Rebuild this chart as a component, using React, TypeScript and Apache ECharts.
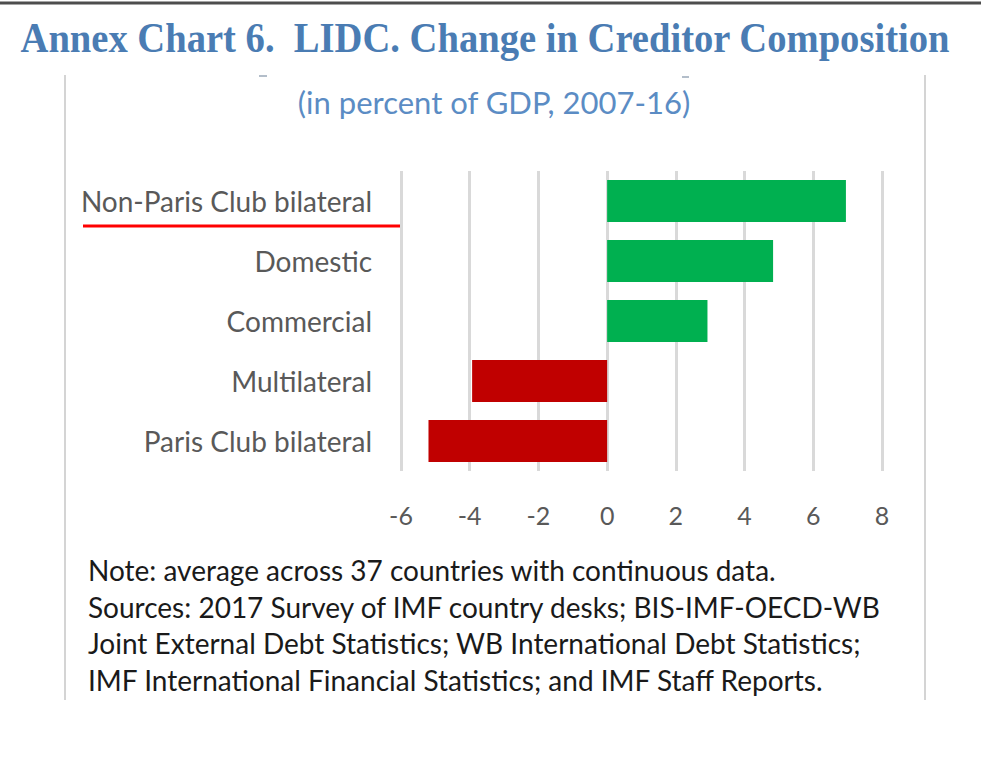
import React, { useEffect, useRef } from "react";
import * as echarts from "echarts";

const categories = [
  "Non-Paris Club bilateral",
  "Domestic",
  "Commercial",
  "Multilateral",
  "Paris Club bilateral",
];
const values = [6.95, 4.83, 2.92, -3.93, -5.2];
const xTicks = { min: -6, max: 8, interval: 2 };

const titleText = "Annex Chart 6.  LIDC. Change in Creditor Composition";
const subtitleText = "(in percent of GDP, 2007-16)";
const noteLines = [
  "Note: average across 37 countries with continuous data.",
  "Sources: 2017 Survey of IMF country desks; BIS-IMF-OECD-WB",
  "Joint External Debt Statistics; WB International Debt Statistics;",
  "IMF International Financial Statistics; and IMF Staff Reports.",
];

const GREEN = "#00b050";
const RED = "#c00000";
const SANS = "Lato, 'Open Sans', sans-serif";

export default function App() {
  const ref = useRef<HTMLDivElement>(null);
  useEffect(() => {
    if (!ref.current) return;
    const chart = echarts.init(ref.current, undefined, { renderer: "svg" });
    chart.setOption({
      animation: false,
      backgroundColor: "#ffffff",
      grid: { left: 401, right: 99, top: 171, bottom: 301 },
      xAxis: {
        type: "value",
        min: xTicks.min,
        max: xTicks.max,
        interval: xTicks.interval,
        axisLine: { show: false },
        axisTick: { show: false },
        splitLine: { show: true, lineStyle: { color: "#d9d9d9", width: 3 } },
        axisLabel: { color: "#595959", fontSize: 25, fontFamily: SANS, margin: 31 },
      },
      yAxis: {
        type: "category",
        data: categories,
        inverse: true,
        axisLine: { show: false },
        axisTick: { show: false },
        axisLabel: { color: "#595959", fontSize: 28, fontFamily: SANS, margin: 29 },
      },
      series: [
        {
          type: "bar",
          data: values.map((v) => ({ value: v, itemStyle: { color: v >= 0 ? GREEN : RED } })),
          barCategoryGap: "30%",
        },
      ],
      graphic: [
        { type: "line", shape: { x1: 0, y1: 3, x2: 981, y2: 3 }, style: { stroke: "#4d4d4d", lineWidth: 3 } },
        {
          type: "text",
          x: 485,
          y: 38,
          scaleY: 1.08,
          style: {
            text: titleText,
            fill: "#4a7cb3",
            font: "bold 38.6px 'Liberation Serif', serif",
            align: "center",
            verticalAlign: "middle",
          },
        },
        { type: "line", shape: { x1: 65, y1: 75, x2: 65, y2: 700 }, style: { stroke: "#d4d4d4", lineWidth: 2 } },
        { type: "line", shape: { x1: 925, y1: 75, x2: 925, y2: 700 }, style: { stroke: "#d4d4d4", lineWidth: 2 } },
        { type: "line", shape: { x1: 259, y1: 76, x2: 267, y2: 76 }, style: { stroke: "#9aa8b8", lineWidth: 1.5 } },
        { type: "line", shape: { x1: 682, y1: 77, x2: 689, y2: 77 }, style: { stroke: "#9aa8b8", lineWidth: 1.5 } },
        {
          type: "text",
          x: 494,
          y: 102,
          style: {
            text: subtitleText,
            fill: "#5b8cc4",
            font: "31px " + SANS,
            align: "center",
            verticalAlign: "middle",
          },
        },
        { type: "line", shape: { x1: 83, y1: 226, x2: 400, y2: 226 }, style: { stroke: "#ff0000", lineWidth: 3 } },
        {
          type: "text",
          x: 88,
          y: 551.5,
          style: {
            text: noteLines.join("\n"),
            fill: "#1a1a1a",
            font: "28px " + SANS,
            lineHeight: 36.7,
            align: "left",
            verticalAlign: "top",
          },
        },
      ],
    });
    return () => chart.dispose();
  }, []);
  return (
    <div
      ref={ref}
      style={{ position: "fixed", left: 0, top: 0, width: 981, height: 772, background: "#fff" }}
    />
  );
}
